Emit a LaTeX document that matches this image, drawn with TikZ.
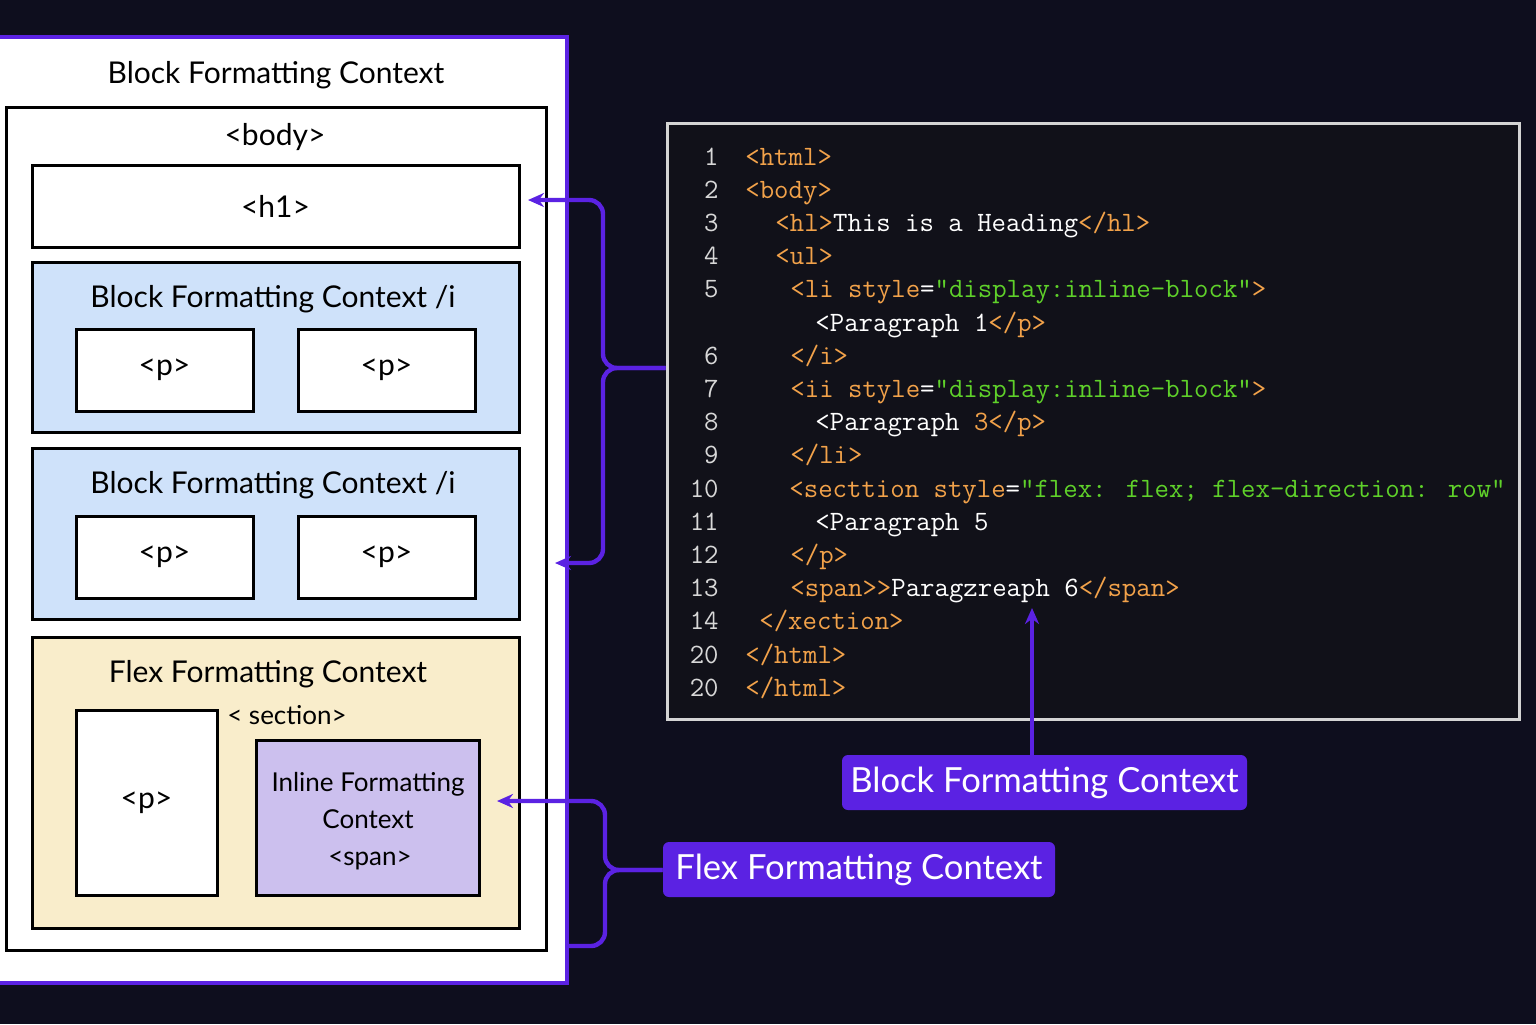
\documentclass[tikz,border=0pt]{standalone}
\usepackage{fontspec}
\setmainfont{Lato}
\usetikzlibrary{fit,arrows.meta}
\definecolor{bgc}{HTML}{0E0E1E}
\definecolor{codebg}{HTML}{111119}
\definecolor{panelgray}{HTML}{D4D4D4}
\definecolor{purp}{HTML}{5B22E3}
\definecolor{tagc}{HTML}{F2A24A}
\definecolor{strc}{HTML}{5FD12A}
\definecolor{lnc}{HTML}{D8D8D8}
\definecolor{lblue}{HTML}{CFE2FA}
\definecolor{cream}{HTML}{F9EDCB}
\definecolor{lav}{HTML}{CCC0EE}
\newcommand\Tg[1]{\textcolor{tagc}{#1}}
\newcommand\Sv[1]{\textcolor{strc}{#1}}
\begin{document}
\begin{tikzpicture}[x=0.5pt,y=-0.5pt,
  boxx/.style={draw=black, line width=1.5pt, inner sep=0pt},
  lbl/.style={font=\fontsize{15}{18}\selectfont, text=black, inner sep=0pt},
  lbls/.style={font=\fontsize{13}{16}\selectfont, text=black, inner sep=0pt},
  codet/.style={font=\ttfamily\fontsize{14}{16}\selectfont, anchor=base west, inner sep=0pt, text=white},
  lnum/.style={font=\ttfamily\fontsize{14}{16}\selectfont, anchor=base east, inner sep=0pt, text=lnc},
  conn/.style={draw=purp, line width=2.2pt, rounded corners=7pt},
  tagbox/.style={fill=purp, rounded corners=3pt, text=white, font=\fontsize{17.3}{20}\selectfont, inner sep=0pt}
]
\useasboundingbox (0,0) rectangle (1536,1024);
\fill[bgc] (0,0) rectangle (1536,1024);

% outer BFC panel
\node[fill=white, draw=purp, line width=2pt, inner sep=0pt, fit={(-20,37) (567,983)}] (outer) {};
\node[lbl] (outert) at (276,75) {Block Formatting Context};

% body
\node[boxx, fill=white, fit={(6,107) (546,950)}] (body) {};
\node[lbl] (bodyt) at (275,137) {<body>};

% h1
\node[boxx, fill=white, fit={(32,165) (519,247)}] (h1) {};
\node[lbl] at (h1) {<h1>};

% BFC li 1
\node[boxx, fill=lblue, fit={(32,262) (519,432)}] (bfc1) {};
\node[lbl] (bfc1t) at (273,299) {Block Formatting Context /i};
\node[boxx, fill=white, fit={(76,329) (253,411)}] (p1) {};
\node[lbl] at (p1) {<p>};
\node[boxx, fill=white, fit={(298,329) (475,411)}] (p2) {};
\node[lbl] at (p2) {<p>};

% BFC li 2
\node[boxx, fill=lblue, fit={(32,448) (519,619)}] (bfc2) {};
\node[lbl] (bfc2t) at (273,485) {Block Formatting Context /i};
\node[boxx, fill=white, fit={(76,516) (253,598)}] (p3) {};
\node[lbl] at (p3) {<p>};
\node[boxx, fill=white, fit={(298,516) (475,598)}] (p4) {};
\node[lbl] at (p4) {<p>};

% Flex
\node[boxx, fill=cream, fit={(32,637) (519,928)}] (flex) {};
\node[lbl] (flext) at (268,674) {Flex Formatting Context};
\node[lbls] (sect) at (287,715) {< section>};
\node[boxx, fill=white, fit={(76,710) (217,895)}] (p5) {};
\node[lbl] at (p5) {<p>};
\node[boxx, fill=lav, fit={(256,740) (479,895)}] (span) {};
\node[lbls] (spant1) at (368,784) {Inline Formatting};
\node[lbls] (spant2) at (368,819) {Context};
\node[lbls] (spant3) at (370,860) {<span>};

% code panel
\node[fill=codebg, draw=panelgray, line width=1.5pt, inner sep=0pt, fit={(667,123) (1519,719)}] (code) {};
\node[lnum] at (719,{165+33.2*0}) {1};
\node[codet] at (745,{165+33.2*0}) {\Tg{<html>}};
\node[lnum] at (719,{165+33.2*1}) {2};
\node[codet] at (745,{165+33.2*1}) {\Tg{<body>}};
\node[lnum] at (719,{165+33.2*2}) {3};
\node[codet] at (775,{165+33.2*2}) {\Tg{<hl>}This is a Heading\Tg{</hl>}};
\node[lnum] at (719,{165+33.2*3}) {4};
\node[codet] at (775,{165+33.2*3}) {\Tg{<ul>}};
\node[lnum] at (719,{165+33.2*4}) {5};
\node[codet] at (790,{165+33.2*4}) {\Tg{<li style}=\Sv{"display:inline-block"}\Tg{>}};
\node[codet] at (815,{165+33.2*5}) {<Paragraph 1\Tg{</p>}};
\node[lnum] at (719,{165+33.2*6}) {6};
\node[codet] at (790,{165+33.2*6}) {\Tg{</i>}};
\node[lnum] at (719,{165+33.2*7}) {7};
\node[codet] at (790,{165+33.2*7}) {\Tg{<ii style}=\Sv{"display:inline-block"}\Tg{>}};
\node[lnum] at (719,{165+33.2*8}) {8};
\node[codet] at (815,{165+33.2*8}) {<Paragraph \Tg{3</p>}};
\node[lnum] at (719,{165+33.2*9}) {9};
\node[codet] at (790,{165+33.2*9}) {\Tg{</li>}};
\node[lnum] at (719,{165+33.2*10}) {10};
\node[codet] at (789,{165+33.2*10}) {\Tg{<secttion style}=\Sv{"flex: flex; flex-direction: row"}};
\node[lnum] at (719,{165+33.2*11}) {11};
\node[codet] at (815,{165+33.2*11}) {<Paragraph 5};
\node[lnum] at (719,{165+33.2*12}) {12};
\node[codet] at (790,{165+33.2*12}) {\Tg{</p>}};
\node[lnum] at (719,{165+33.2*13}) {13};
\node[codet] at (790,{165+33.2*13}) {\Tg{<span>>}Paragzreaph 6\Tg{</span>}};
\node[lnum] at (719,{165+33.2*14}) {14};
\node[codet] at (759,{165+33.2*14}) {\Tg{</xection>}};
\node[lnum] at (719,{165+33.2*15}) {20};
\node[codet] at (745,{165+33.2*15}) {\Tg{</html>}};
\node[lnum] at (719,{165+33.2*16}) {20};
\node[codet] at (745,{165+33.2*16}) {\Tg{</html>}};

% purple labels
\node[tagbox, minimum width=202.5pt, minimum height=27.5pt] (bfclab) at (1044.5,782.5) {Block Formatting Context};
\node[tagbox, minimum width=196pt, minimum height=27.5pt] (flexlab) at (859,869.5) {Flex Formatting Context};

% connectors
\coordinate (bj) at (603,368);
\coordinate (a1) at (528,200);
\coordinate (a2) at (555,563);
\draw[conn, -{Stealth[length=8pt,width=7pt]}] (code.west |- bj) -- (bj) -- (bj |- a1) -- (a1);
\draw[conn, -{Stealth[length=8pt,width=7pt]}] (code.west |- bj) -- (bj) -- (bj |- a2) -- (a2);

\coordinate (fj) at (605,870);
\coordinate (a3) at (497,801);
\coordinate (a4) at (567,946);
\draw[conn, -{Stealth[length=8pt,width=7pt]}] (flexlab.west |- fj) -- (fj) -- (fj |- a3) -- (a3);
\draw[conn] (flexlab.west |- fj) -- (fj) -- (fj |- a4) -- (a4);

\coordinate (a5) at (1032,608);
\draw[purp, line width=2.2pt, -{Stealth[length=8pt,width=7pt]}] (bfclab.north -| a5) -- (a5);
\end{tikzpicture}
\end{document}
